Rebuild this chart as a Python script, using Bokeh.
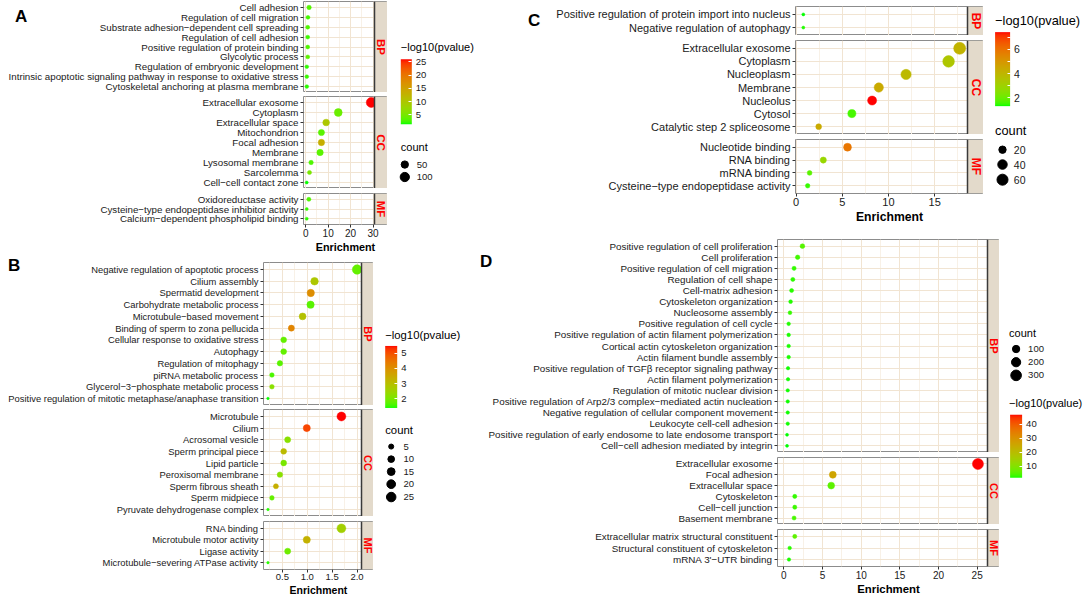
import math
from bokeh.plotting import figure
from bokeh.layouts import row, column
from bokeh.models import (ColumnDataSource, FactorRange, Range1d, FixedTicker, Div,
                          BoxAnnotation, Span, Label, ColorBar, LinearColorMapper,
                          PrintfTickFormatter)
from bokeh.transform import transform
from bokeh.core.properties import value
from bokeh.embed import file_html
from bokeh.resources import INLINE

# ---------------------------------------------------------------- data
A_TERMS = ["Cell adhesion", "Regulation of cell migration",
           "Substrate adhesion\u2212dependent cell spreading", "Regulation of cell adhesion",
           "Positive regulation of protein binding", "Glycolytic process",
           "Regulation of embryonic development",
           "Intrinsic apoptotic signaling pathway in response to oxidative stress",
           "Cytoskeletal anchoring at plasma membrane",
           "Extracellular exosome", "Cytoplasm", "Extracellular space", "Mitochondrion",
           "Focal adhesion", "Membrane", "Lysosomal membrane", "Sarcolemma",
           "Cell\u2212cell contact zone",
           "Oxidoreductase activity", "Cysteine\u2212type endopeptidase inhibitor activity",
           "Calcium\u2212dependent phospholipid binding"]
A_GROUPS = ["BP"] * 9 + ["CC"] * 9 + ["MF"] * 3
A_ENRICHMENT = [1.5, 1.0, 0.9, 0.9, 0.9, 0.9, 0.5, 0.5, 0.5,
                29.2, 14.5, 9.1, 7.0, 7.0, 6.4, 2.4, 1.7, 0.46,
                1.4, 0.46, 0.46]
A_COUNT = [9, 6, 6, 6, 6, 6, 5, 5, 5,
           125, 62, 38, 30, 32, 32, 9, 7, 4,
           7, 4, 4]
A_LOG10P = [3.2, 2.6, 3.0, 2.4, 3.0, 3.6, 2.0, 2.2, 1.9,
            26.0, 4.2, 10.0, 3.5, 13.3, 3.5, 3.0, 5.2, 1.5,
            3.0, 2.2, 2.0]

B_TERMS = ["Negative regulation of apoptotic process", "Cilium assembly",
           "Spermatid development", "Carbohydrate metabolic process",
           "Microtubule\u2212based movement", "Binding of sperm to zona pellucida",
           "Cellular response to oxidative stress", "Autophagy", "Regulation of mitophagy",
           "piRNA metabolic process", "Glycerol\u22123\u2212phosphate metabolic process",
           "Positive regulation of mitotic metaphase/anaphase transition",
           "Microtubule", "Cilium", "Acrosomal vesicle", "Sperm principal piece",
           "Lipid particle", "Peroxisomal membrane", "Sperm fibrous sheath",
           "Sperm midpiece", "Pyruvate dehydrogenase complex",
           "RNA binding", "Microtubule motor activity", "Ligase activity",
           "Microtubule\u2212severing ATPase activity"]
B_GROUPS = ["BP"] * 12 + ["CC"] * 9 + ["MF"] * 4
B_ENRICHMENT = [2.0, 1.146, 1.07, 1.066, 0.906, 0.68, 0.526, 0.526, 0.45, 0.29, 0.29, 0.21,
                1.686, 0.99, 0.606, 0.526, 0.526, 0.45, 0.37, 0.29, 0.21,
                1.686, 0.99, 0.606, 0.21]
B_COUNT = [25, 14, 13, 13, 11, 8, 7, 7, 6, 4, 4, 2,
           21, 12, 8, 7, 7, 6, 5, 4, 2,
           21, 12, 8, 2]
B_LOG10P = [1.8, 2.8, 4.05, 1.7, 2.95, 4.2, 1.8, 1.8, 1.7, 1.6, 2.2, 1.39,
            5.48, 5.1, 2.2, 3.1, 2.0, 2.2, 3.35, 1.8, 1.45,
            2.6, 3.3, 1.9, 1.45]

C_TERMS = ["Positive regulation of protein import into nucleus",
           "Negative regulation of autophagy",
           "Extracellular exosome", "Cytoplasm", "Nucleoplasm", "Membrane", "Nucleolus",
           "Cytosol", "Catalytic step 2 spliceosome",
           "Nucleotide binding", "RNA binding", "mRNA binding",
           "Cysteine\u2212type endopeptidase activity"]
C_GROUPS = ["BP"] * 2 + ["CC"] * 7 + ["MF"] * 4
C_ENRICHMENT = [0.79, 0.79, 17.7, 16.5, 11.9, 8.95, 8.23, 6.04, 2.45, 5.57, 2.95, 1.47, 1.26]
C_COUNT = [3, 3, 75, 70, 50, 38, 35, 26, 10, 24, 12, 6, 5]
C_LOG10P = [1.31, 1.4, 4.1, 3.45, 3.9, 4.4, 7.43, 1.6, 4.4, 5.9, 2.85, 1.8, 1.5]

D_TERMS = ["Positive regulation of cell proliferation", "Cell proliferation",
           "Positive regulation of cell migration", "Regulation of cell shape",
           "Cell-matrix adhesion", "Cytoskeleton organization", "Nucleosome assembly",
           "Positive regulation of cell cycle",
           "Positive regulation of actin filament polymerization",
           "Cortical actin cytoskeleton organization", "Actin filament bundle assembly",
           "Positive regulation of TGF\u03b2 receptor signaling pathway",
           "Actin filament polymerization", "Regulation of mitotic nuclear division",
           "Positive regulation of Arp2/3 complex\u2212mediated actin nucleation",
           "Negative regulation of cellular component movement",
           "Leukocyte cell-cell adhesion",
           "Positive regulation of early endosome to late endosome transport",
           "Cell\u2212cell adhesion mediated by integrin",
           "Extracellular exosome", "Focal adhesion", "Extracellular space", "Cytoskeleton",
           "Cell\u2212cell junction", "Basement membrane",
           "Extracellular matrix structural constituent",
           "Structural constituent of cytoskeleton", "mRNA 3'\u2212UTR binding"]
D_GROUPS = ["BP"] * 19 + ["CC"] * 6 + ["MF"] * 3
D_ENRICHMENT = [2.4, 1.78, 1.32, 1.16, 1.0, 0.87, 0.79, 0.62, 0.62, 0.62, 0.62, 0.54, 0.54,
                0.5, 0.5, 0.5, 0.5, 0.41, 0.41,
                25.1, 6.33, 6.12, 1.41, 1.41, 1.32,
                1.41, 0.75, 0.66]
D_COUNT = [20, 16, 12, 11, 10, 8, 8, 7, 7, 7, 7, 6, 6, 6, 6, 6, 6, 5, 5,
           330, 83, 80, 12, 12, 11,
           12, 7, 6]
D_LOG10P = [5.0, 3.6, 3.0, 2.8, 2.6, 2.5, 3.2, 2.4, 2.3, 2.2, 2.2, 2.1, 2.1, 2.0, 2.0, 2.0,
            2.0, 1.9, 1.8,
            46.8, 26.0, 5.5, 3.0, 3.5, 4.0,
            5.5, 2.6, 2.2]

A_XTICKS, A_XMINOR = [0, 10, 20, 30], [5, 15, 25]
B_XTICKS, B_XMINOR = [0.5, 1.0, 1.5, 2.0], [0.25, 0.75, 1.25, 1.75]
C_XTICKS, C_XMINOR = [0, 5, 10, 15], [2.5, 7.5, 12.5, 17.5]
D_XTICKS, D_XMINOR = [0, 5, 10, 15, 20, 25], [2.5, 7.5, 12.5, 17.5, 22.5]
A_CBTICKS, B_CBTICKS = [5, 10, 15, 20, 25], [2, 3, 4, 5]
C_CBTICKS, D_CBTICKS = [2, 3, 4, 5, 6, 7], [10, 20, 30, 40]
A_SIZELEG, B_SIZELEG = [50, 100], [5, 10, 15, 20, 25]
C_SIZELEG, D_SIZELEG = [20, 40, 60], [100, 200, 300]

# ---------------------------------------------------------------- style
SX, SY = 1.0, 0.99
FONT = "Liberation Sans"
STRIP_FILL = "#E3DACB"
BORDER = "#8C8C8C"
GRID_MAJOR = "#F1E4D2"
GRID_MINOR = "#F8F1E7"
TXT = "#1A1A1A"


def _hex_rgb(h):
    return [int(h[i:i + 2], 16) / 255 for i in (1, 3, 5)]


def _lin(c):
    return c / 12.92 if c <= 0.04045 else ((c + 0.055) / 1.055) ** 2.4


def _gam(c):
    c = max(0.0, min(1.0, c))
    return 12.92 * c if c <= 0.0031308 else 1.055 * c ** (1 / 2.4) - 0.055


WP = (0.95047, 1.0, 1.08883)


def _f(t):
    return t ** (1 / 3) if t > (6 / 29) ** 3 else t / (3 * (6 / 29) ** 2) + 4 / 29


def _fi(t):
    return t ** 3 if t > 6 / 29 else 3 * (6 / 29) ** 2 * (t - 4 / 29)


def to_lab(h):
    r, g, b = [_lin(c) for c in _hex_rgb(h)]
    X = 0.4124564 * r + 0.3575761 * g + 0.1804375 * b
    Y = 0.2126729 * r + 0.7151522 * g + 0.0721750 * b
    Z = 0.0193339 * r + 0.1191920 * g + 0.9503041 * b
    fx, fy, fz = _f(X / WP[0]), _f(Y / WP[1]), _f(Z / WP[2])
    return (116 * fy - 16, 500 * (fx - fy), 200 * (fy - fz))


def from_lab(L, a, b):
    fy = (L + 16) / 116
    fx, fz = fy + a / 500, fy - b / 200
    X, Y, Z = WP[0] * _fi(fx), WP[1] * _fi(fy), WP[2] * _fi(fz)
    r = 3.2404542 * X - 1.5371385 * Y - 0.4985314 * Z
    g = -0.9692660 * X + 1.8760108 * Y + 0.0415560 * Z
    bb = 0.0556434 * X - 0.2040259 * Y + 1.0572252 * Z
    return "#%02x%02x%02x" % tuple(int(round(_gam(c) * 255)) for c in (r, g, bb))


_l0, _l1 = to_lab("#00FF00"), to_lab("#FF0000")
PALETTE = [from_lab(*[_l0[k] + (_l1[k] - _l0[k]) * i / 255 for k in range(3)]) for i in range(256)]


def size_map(c, cmin, cmax, dmin, dmax):
    return dmin + (dmax - dmin) * math.sqrt((c - cmin) / (cmax - cmin))


def px(v):
    return f"{v}px"


def build_panel(terms, groups, enr, cnt, lgp, G, S):
    mapper = LinearColorMapper(palette=PALETTE, low=min(lgp), high=max(lgp))
    cmin, cmax = min(cnt), max(cnt)
    xmin, xmax = min(enr), max(enr)
    span = xmax - xmin
    lo, hi = xmin - 0.05 * span, xmax + 0.05 * span
    hx = [int(round(v * SX)) for v in G["hx"]]
    vy = [int(round(v * SY)) for v in G["vy"]]
    bl, dw, sw = hx[1], hx[2] - hx[1], hx[3] - hx[2]
    fw, legW = dw + sw, hx[4] - hx[3]
    hi_ext = lo + (hi - lo) * fw / dw
    figs = []
    for k, g in enumerate(["BP", "CC", "MF"]):
        idx = [i for i in range(len(terms)) if groups[i] == g]
        bt = vy[1 + 2 * k] - vy[2 * k]
        fh = vy[2 + 2 * k] - vy[1 + 2 * k]
        last = k == 2
        bb = vy[7] - vy[6] if last else 0
        src = ColumnDataSource(dict(
            term=[terms[i] for i in idx], x=[enr[i] for i in idx],
            sz=[size_map(cnt[i], cmin, cmax, S["dmin"], S["dmax"]) for i in idx],
            lp=[lgp[i] for i in idx]))
        fac = [terms[i] for i in idx][::-1]
        p = figure(frame_width=fw, frame_height=fh,
                   min_border_left=bl, min_border_right=0, min_border_top=bt,
                   min_border_bottom=bb,
                   x_range=Range1d(lo, hi_ext),
                   y_range=FactorRange(factors=fac, range_padding=0.1,
                                       range_padding_units="absolute"),
                   x_axis_location="below" if last else None, y_axis_location="left",
                   title=None, toolbar_location=None, output_backend="svg")
        p.outline_line_color = BORDER
        p.outline_line_width = 1
        p.xgrid.ticker = FixedTicker(ticks=S["xticks"], minor_ticks=S["xminor"])
        p.xgrid.grid_line_color = GRID_MAJOR
        p.xgrid.minor_grid_line_color = GRID_MINOR
        p.ygrid.grid_line_color = GRID_MAJOR
        p.scatter(x="x", y="term", size="sz", source=src,
                  fill_color=transform("lp", mapper), line_color=transform("lp", mapper),
                  line_width=0.5)
        ya = p.yaxis[0]
        ya.axis_line_color = None
        ya.major_tick_line_color = "#333333"
        ya.major_tick_out = 3
        ya.major_tick_in = 0
        ya.major_label_standoff = 2
        ya.major_label_text_font = FONT
        ya.major_label_text_font_size = px(S["ylab"])
        ya.major_label_text_color = TXT
        if last:
            xa = p.xaxis[0]
            xa.ticker = FixedTicker(ticks=S["xticks"])
            xa.formatter = PrintfTickFormatter(format=S["xfmt"])
            xa.axis_line_color = None
            xa.major_tick_line_color = "#333333"
            xa.major_tick_out = 3
            xa.major_tick_in = 0
            xa.minor_tick_line_color = None
            xa.major_label_standoff = 1
            xa.major_label_text_font = FONT
            xa.major_label_text_font_size = px(S["xtick"])
            xa.major_label_text_color = TXT
            xa.axis_label = "Enrichment"
            xa.axis_label_standoff = 1
            xa.axis_label_text_font = FONT
            xa.axis_label_text_font_style = "bold"
            xa.axis_label_text_font_size = px(S["axlab"])
            xa.axis_label_text_color = "black"
        p.add_layout(BoxAnnotation(left=hi, fill_color=STRIP_FILL, fill_alpha=1.0,
                                   line_color=BORDER, line_width=1))
        p.add_layout(Span(location=hi, dimension="height", line_color="#3A3A3A",
                          line_width=1.5))
        p.add_layout(Label(x=dw + sw / 2, y=fh / 2, x_units="screen", y_units="screen",
                           text=g, angle=-math.pi / 2, text_align="center",
                           text_baseline="middle", text_color="#FF0000", text_font=FONT,
                           text_font_style="bold", text_font_size=px(S["strip"])))
        figs.append(p)

    letter = Div(text=S["letter"], width=20, height=20,
                 styles={"position": "absolute", "left": px(G["letter"][0]),
                         "top": px(G["letter"][1]), "font-family": FONT,
                         "font-size": "17px", "font-weight": "bold", "line-height": "1",
                         "color": "black", "z-index": "10"})

    H = vy[7]
    lf = figure(width=legW, height=H, x_range=Range1d(0, legW), y_range=Range1d(H, 0),
                min_border=0, title=None, x_axis_location=None, y_axis_location=None,
                toolbar_location=None, output_backend="svg")
    lf.grid.visible = False
    lf.outline_line_color = None
    L = G["legend"]
    tkw = dict(text_font=value(FONT), text_baseline="middle", text_align="left")
    tx, ty = L["ctitle"]
    lf.text(x=[tx * SX], y=[ty * SY], text=["\u2212log10(pvalue)"], text_color="black",
            text_font_size=value(px(S["legtitle"])), **tkw)
    bx, by0, by1, bw = L["cbar"]
    bh = int(round((by1 - by0) * SY))
    cb = ColorBar(color_mapper=mapper, ticker=FixedTicker(ticks=S["cbticks"]),
                  width=int(round(bw * SX)), height=bh,
                  location=(bx * SX, H - by1 * SY), padding=0, margin=0,
                  bar_line_color=None, border_line_color=None, background_fill_color=None,
                  major_tick_line_color="white", major_tick_in=3, major_tick_out=0,
                  minor_tick_line_color=None, label_standoff=4,
                  major_label_text_font=FONT, major_label_text_font_size=px(S["leglab"]),
                  major_label_text_color=TXT)
    lf.add_layout(cb, "center")
    sx_, sy_ = L["stitle"]
    lf.text(x=[sx_ * SX], y=[sy_ * SY], text=["count"], text_color="black",
            text_font_size=value(px(S["legtitle"])), **tkw)
    dx, dys, tlx = L["dots"]
    sl = S["sizeleg"]
    lf.scatter(x=[dx * SX] * len(sl), y=[d * SY for d in dys],
               size=[size_map(v, cmin, cmax, S["dmin"], S["dmax"]) for v in sl],
               color="black")
    lf.text(x=[tlx * SX] * len(sl), y=[d * SY for d in dys], text=[str(v) for v in sl],
            text_color=TXT, text_font_size=value(px(S["leglab"])), **tkw)
    return row(column(letter, *figs), lf)


GEO_A = dict(hx=[0, 303.3, 374.0, 386.7, 478],
             vy=[0, 1, 93.3, 96.7, 190, 195, 226.7, 257],
             letter=(10, 3),
             legend=dict(ctitle=(13.3, 46.7), cbar=(13.3, 59, 125, 11),
                         stitle=(13.3, 148), dots=(17.3, [165.7, 178.3], 29.3)))
GEO_B = dict(hx=[0, 263.3, 361.0, 373.3, 478],
             vy=[0, 7, 151.3, 155.7, 264, 268.7, 317.3, 341],
             letter=(3, -3),
             legend=dict(ctitle=(11.7, 80.3), cbar=(11.7, 91.3, 154, 12.3),
                         stitle=(11.7, 176.3),
                         dots=(17.7, [193, 205.7, 218.3, 231, 244], 30)))
GEO_C = dict(hx=[0, 317, 488.7, 504.7, 606],
             vy=[0, 6, 35, 40, 135, 140, 195, 235],
             letter=(45, 7),
             legend=dict(ctitle=(11.6, 20.7), cbar=(11.6, 32, 106.7, 15),
                         stitle=(11.6, 131.7), dots=(19, [150.7, 165.7, 181], 30.3)))
GEO_D = dict(hx=[0, 299, 508.8, 521.4, 606],
             vy=[0, 6.3, 221, 226, 294, 299, 336, 363],
             letter=(-3, 15),
             legend=dict(ctitle=(9.6, 171.7), cbar=(10.6, 182.7, 246.7, 12),
                         stitle=(9.6, 100), dots=(16.6, [116.7, 130, 143.3], 28.6)))

STY_A = dict(letter="A", ylab=9.75, xtick=10, axlab=10.8, strip=11.5, legtitle=11,
             leglab=9.5, dmin=3.0, dmax=10.0, xticks=A_XTICKS, xminor=A_XMINOR,
             xfmt="%d", cbticks=A_CBTICKS, sizeleg=A_SIZELEG)
STY_B = dict(letter="B", ylab=9.4, xtick=9.5, axlab=10.5, strip=11, legtitle=11.3,
             leglab=9.5, dmin=2.5, dmax=9.5, xticks=B_XTICKS, xminor=B_XMINOR,
             xfmt="%.1f", cbticks=B_CBTICKS, sizeleg=B_SIZELEG)
STY_C = dict(letter="C", ylab=11.0, xtick=11, axlab=12.2, strip=12, legtitle=12.8,
             leglab=10.5, dmin=3.0, dmax=12.0, xticks=C_XTICKS, xminor=C_XMINOR,
             xfmt="%d", cbticks=C_CBTICKS, sizeleg=C_SIZELEG)
STY_D = dict(letter="D", ylab=9.85, xtick=10, axlab=11.4, strip=11, legtitle=11,
             leglab=9.5, dmin=3.0, dmax=11.0, xticks=D_XTICKS, xminor=D_XMINOR,
             xfmt="%d", cbticks=D_CBTICKS, sizeleg=D_SIZELEG)

pA = build_panel(A_TERMS, A_GROUPS, A_ENRICHMENT, A_COUNT, A_LOG10P, GEO_A, STY_A)
pB = build_panel(B_TERMS, B_GROUPS, B_ENRICHMENT, B_COUNT, B_LOG10P, GEO_B, STY_B)
pC = build_panel(C_TERMS, C_GROUPS, C_ENRICHMENT, C_COUNT, C_LOG10P, GEO_C, STY_C)
pD = build_panel(D_TERMS, D_GROUPS, D_ENRICHMENT, D_COUNT, D_LOG10P, GEO_D, STY_D)

layout = row(column(pA, pB), column(pC, pD))
open("out.html", "w").write(file_html(layout, INLINE))
